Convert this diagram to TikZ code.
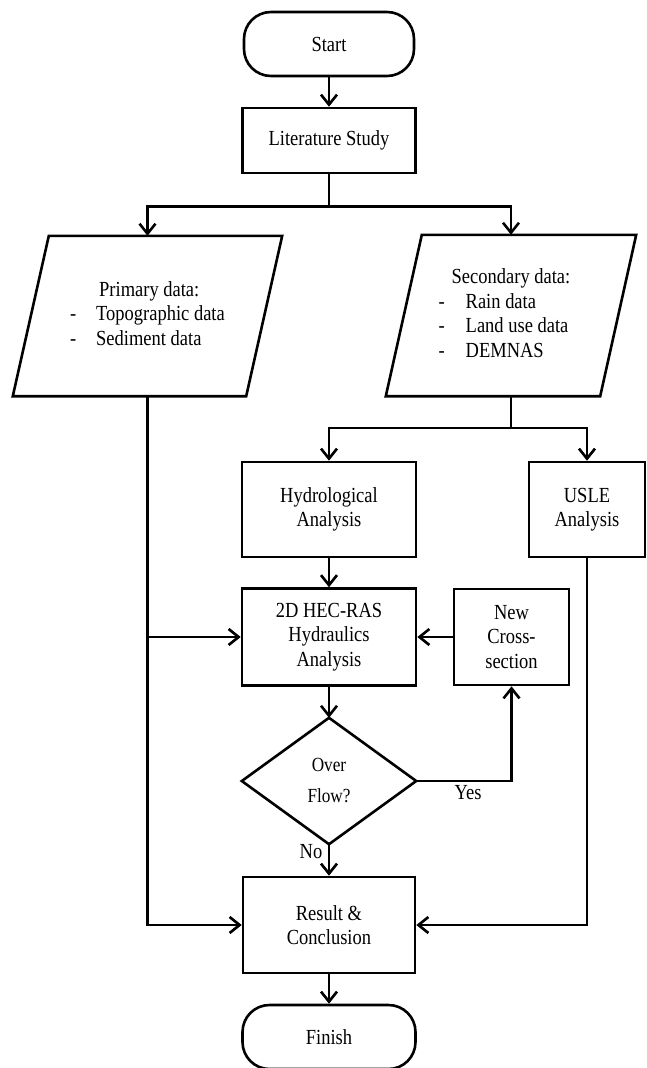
\documentclass[tikz,border=0pt]{standalone}
\usepackage{fontspec}
\setmainfont{Liberation Serif}[FakeStretch=0.86]
\usetikzlibrary{arrows.meta,calc}
\begin{document}
\begin{tikzpicture}[x=1pt,y=-1pt,
  every node/.style={font=\fontsize{21.5}{24.5}\selectfont},
  line/.style={line width=2.6pt},
  box/.style={draw, line width=2.6pt, rectangle, inner sep=0pt, align=center},
  term/.style={box, rounded corners=27pt},
  ghost/.style={rectangle, inner sep=0pt},
  arr/.style={line width=2.6pt, -{Straight Barb[length=10pt,width=16pt]}},
  lbl/.style={inner sep=0pt}
]
\useasboundingbox (0,0) rectangle (647,1068);

% nodes
\node[term, minimum width=170pt, minimum height=64pt] (start) at (329,44) {Start};
\node[box, minimum width=173pt, minimum height=65pt] (lit) at (329,140.5) {Literature Study};

\node[ghost, minimum width=269pt, minimum height=160pt] (prim) at (147.5,316) {%
\begin{tabular}{@{}l@{}l@{}}
\multicolumn{2}{@{}l@{}}{\hspace{29pt}Primary data:}\\
\makebox[26pt][l]{-} & Topographic data\\
\makebox[26pt][l]{-} & Sediment data
\end{tabular}};
\draw[line] (prim.south west) -- ($(prim.north west)+(36,0)$) -- (prim.north east) -- ($(prim.south east)-(36,0)$) -- cycle;

\node[ghost, minimum width=250pt, minimum height=161pt] (sec) at (511,315.5) {%
\begin{tabular}{@{}l@{}l@{}}
\multicolumn{2}{@{}l@{}}{\hspace{13pt}Secondary data:}\\
\makebox[27pt][l]{-} & Rain data\\
\makebox[27pt][l]{-} & Land use data\\
\makebox[27pt][l]{-} & DEMNAS
\end{tabular}\kern13pt};
\draw[line] (sec.south west) -- ($(sec.north west)+(36,0)$) -- (sec.north east) -- ($(sec.south east)-(36,0)$) -- cycle;

\node[box, minimum width=174pt, minimum height=95pt] (hyd) at (329,509.5) {Hydrological\\Analysis};
\node[box, minimum width=116pt, minimum height=95pt] (usle) at (587,509.5) {USLE\\Analysis};
\node[box, minimum width=174pt, minimum height=97pt] (hec) at (329,637) {2D HEC-RAS\\Hydraulics\\Analysis};
\node[box, minimum width=115pt, minimum height=96pt] (new) at (511.5,637) {New\\Cross-\\section};

\node[ghost, minimum width=174pt, minimum height=126pt, align=center,
      font=\fontsize{20}{31}\selectfont] (dia) at (329,781) {Over\\Flow?};
\draw[line] (dia.north) -- (dia.east) -- (dia.south) -- (dia.west) -- cycle;

\node[box, minimum width=172pt, minimum height=96pt] (res) at (329,925) {Result \&\\Conclusion};
\node[term, minimum width=173pt, minimum height=64pt] (fin) at (329,1037) {Finish};

\node[lbl] (yes) at (468,793) {Yes};
\node[lbl] (no) at (311,852) {No};

% connectors
\draw[arr] (start.south) -- (lit.north);
\coordinate (br1) at (329,206.5);
\draw[line] (lit.south) -- (br1);
\draw[arr] (br1) -| (prim.north);
\draw[arr] (br1) -| (sec.north);

\coordinate (br2) at (511,428);
\draw[line] (sec.south) -- (br2);
\draw[arr] (br2) -| (hyd.north);
\draw[arr] (br2) -| (usle.north);

\draw[arr] (hyd.south) -- (hec.north);
\draw[arr] (new.west) -- (hec.east);
\draw[arr] (hec.south) -- (dia.north);
\draw[arr] (dia.east) -| (new.south);
\draw[arr] (dia.south) -- (res.north);
\draw[arr] (res.south) -- (fin.north);

\draw[arr] (prim.south) |- (res.west);
\draw[arr] (prim.south |- hec.west) -- (hec.west);
\draw[arr] (usle.south) |- (res.east);
\end{tikzpicture}
\end{document}
